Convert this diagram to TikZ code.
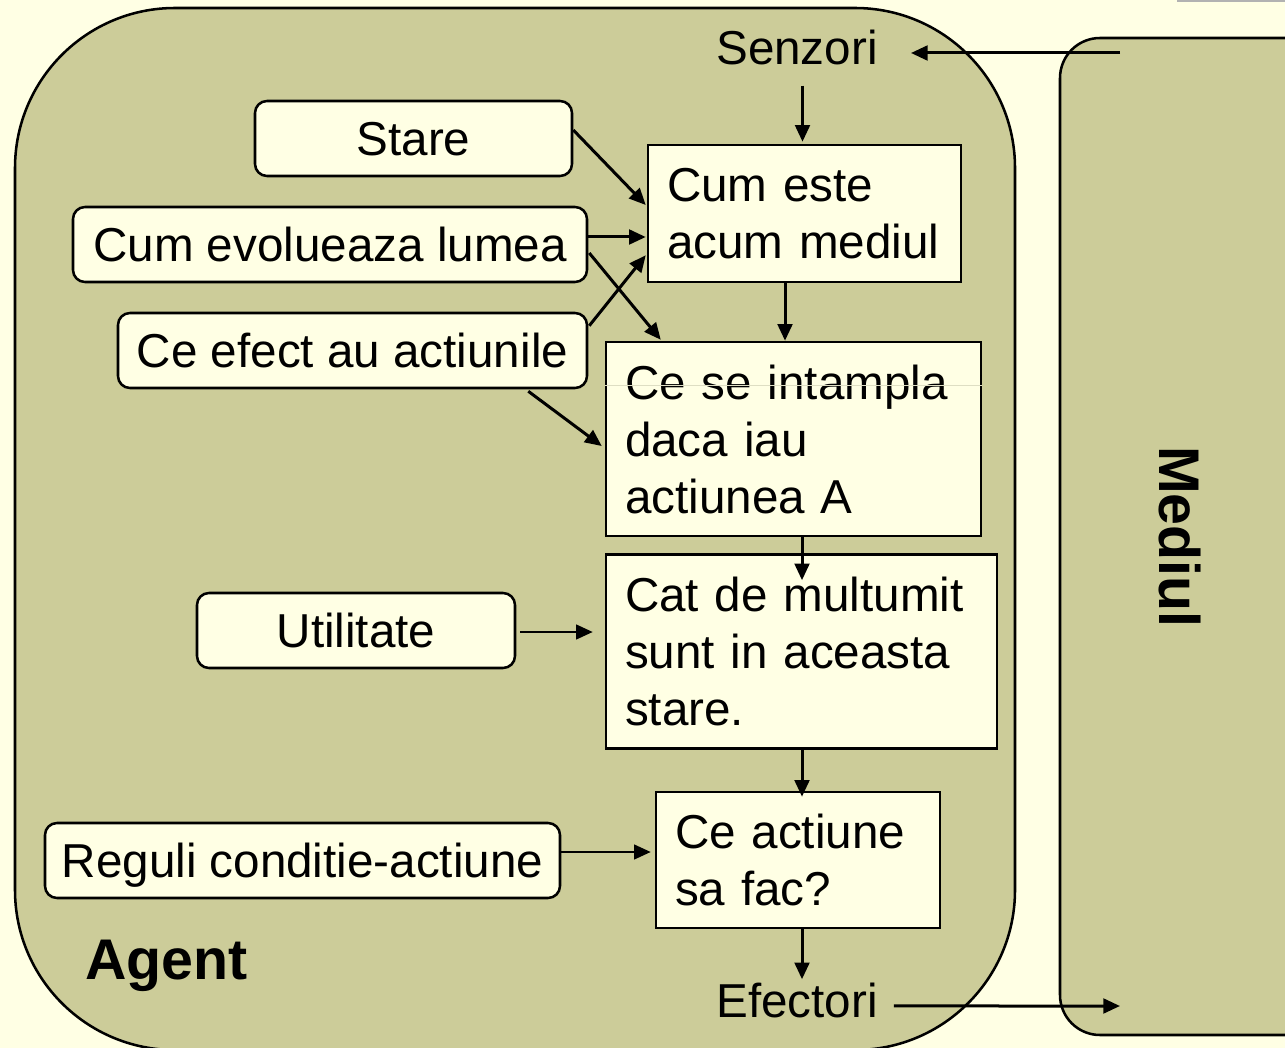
\documentclass[tikz,border=0pt]{standalone}
\usepackage{fontspec}
\setmainfont{Liberation Sans}
\usetikzlibrary{arrows.meta,calc}
\definecolor{cream}{RGB}{255,255,228}
\definecolor{olive}{RGB}{204,204,153}
\definecolor{faint}{RGB}{222,222,195}
\begin{document}
\begin{tikzpicture}[x=0.75pt,y=-0.75pt,
  txt/.style={font=\fontsize{35.7pt}{42.75pt}\selectfont},
  lbl/.style={txt, inner sep=0pt},
  rbox/.style={txt, draw, line width=1.9pt, rounded corners=9pt, fill=cream,
    minimum height=56.25pt, inner sep=0pt, text height=25.6pt, text depth=0pt},
  sbox/.style={txt, draw, line width=1.9pt, fill=cream, inner xsep=14.25pt,
    inner ysep=0pt, align=left},
  tip/.style={-{Triangle[length=12.5pt,width=11pt]}},
  arr/.style={line width=2.25pt, tip},
  arrthin/.style={line width=1.8pt, tip},
  region/.style={draw, line width=1.9pt, fill=olive},
  big/.style={font=\fontsize{43pt}{50pt}\selectfont\bfseries, inner sep=0pt}
]
\useasboundingbox (0,0) rectangle (1285,1048);
\clip (0,0) rectangle (1285,1048);
\fill[cream] (0,0) rectangle (1285,1048);
\fill[gray!60] (1177,0) rectangle (1285,2);

% regions
\draw[region, rounded corners=120pt] (15,8) rectangle (1015,1050);
\draw[region, rounded corners=30pt] (1060,38) rectangle (1340,1035);

% labels
\node[big, anchor=base west] (agent) at (85,979) {Agent};
\node[big, rotate=-90] (mediul) at (1180,537) {Mediul};
\node[lbl, anchor=base] (senz) at (797,65) {Senzori};
\node[lbl, anchor=base] (efect) at (797,1017) {Efectori};

% rounded boxes
\node[rbox, minimum width=237.75pt] (stare) at (413.5,138.5) {Stare};
\node[rbox, minimum width=385.5pt] (evol) at (330,244.5) {Cum evolueaza lumea};
\node[rbox, minimum width=351.75pt] (efa) at (352.5,350.5) {Ce efect au actiunile};
\node[rbox, minimum width=238.5pt] (util) at (356,630.5) {Utilitate};
\node[rbox, minimum width=386.25pt] (reguli) at (302.5,860.5) {Reguli conditie-actiune};

% square boxes
\node[sbox, text width=206.25pt, minimum height=102.75pt] (cum) at (804.5,213.5)
  {Cum este\\acum mediul};
\node[sbox, text width=252.75pt, minimum height=145.5pt] (ce) at (793.5,439)
  {Ce se intampla\\daca iau\\actiunea A};
\node[sbox, text width=264.75pt, minimum height=145.5pt] (cat) at (801.5,651.5)
  {Cat de multumit\\sunt in aceasta\\stare.};
\node[sbox, text width=184.5pt, minimum height=102pt] (act) at (798,860)
  {Ce actiune\\sa fac?};

% faint artefact line
\draw[faint, line width=0.5pt] ($(ce.west)+(0,-54)$) -- ($(ce.east)+(0,-54)$);

% connectors
\coordinate (mtop) at (1120,53);
\coordinate (mbot) at (1120,1006);
\draw[arr] (mtop) -- ($(senz.east |- mtop)+(33,0)$);
\draw[arr] ($(senz.south -| cum.north)+(-2,20)$) -- ($(cum.north)+(-2,-2)$);
\draw[arr] ($(stare.east)+(0,-8.5)$) -- ($(cum.west)+(-1,-8.5)$);
\draw[arr] ($(evol.east)+(0,-7.5)$) coordinate (e1) -- ($(cum.west |- e1)+(-1,0)$);
\draw[arr] ($(evol.east)+(1,8.5)$) -- ($(ce.north west)+(56,-1)$);
\draw[arr] ($(efa.north east)+(1,14)$) -- ($(cum.south west)+(-1,-28)$);
\draw[arr] ($(efa.south east)+(-60,2)$) -- ($(ce.west)+(-3,7)$);
\draw[arr] ($(cum.south)+(-19.5,0)$) coordinate (c1) -- (ce.north -| c1);
\draw[arr] ($(ce.south)+(8.5,0)$) coordinate (c2) -- ($(cat.north -| c2)+(0,27)$);
\draw[arrthin] ($(util.east)+(4,1.5)$) coordinate (u1) -- ($(cat.west |- u1)+(-12,0)$);
\draw[arr] ($(cat.south)+(0.5,0)$) coordinate (c3) -- ($(act.north -| c3)+(0,6)$);
\draw[arrthin] ($(reguli.east)+(0,-8.5)$) coordinate (r1) -- ($(act.west |- r1)+(-4,0)$);
\draw[arr] ($(act.south)+(4,0)$) coordinate (c4) -- ($(c4 |- efect.north)+(0,-3)$);
\draw[arr] ($(efect.east)+(16,6)$) -- (mbot);
\end{tikzpicture}
\end{document}
